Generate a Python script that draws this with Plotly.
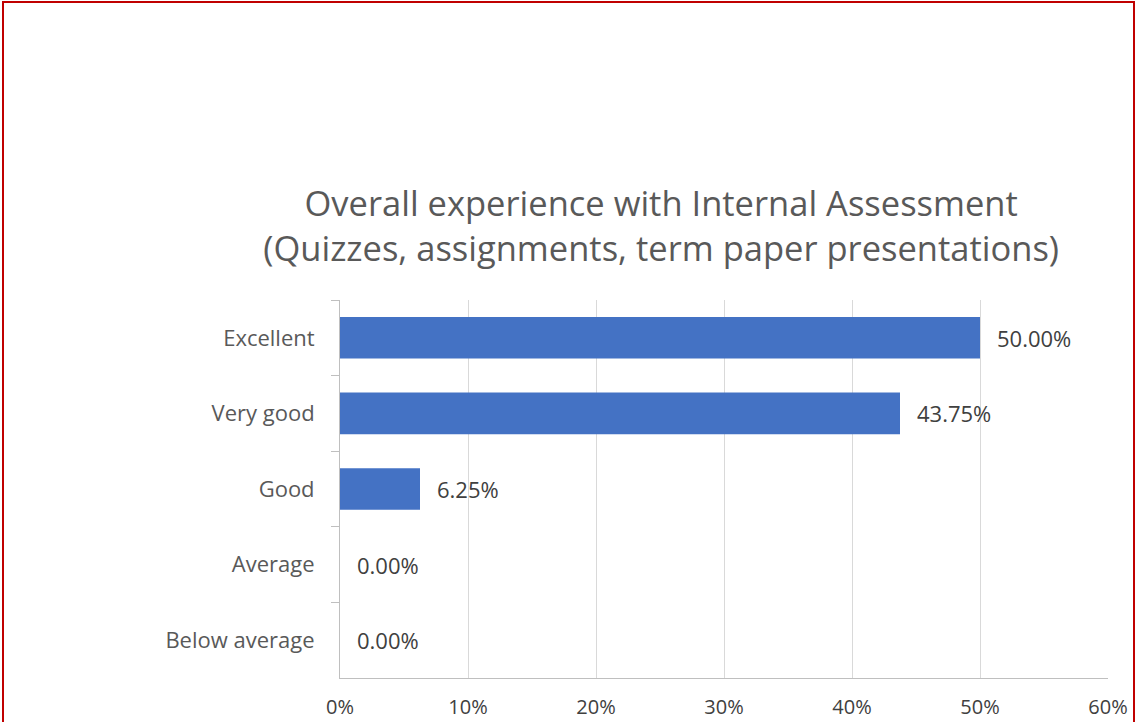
import plotly.graph_objects as go

categories = ["Excellent", "Very good", "Good", "Average", "Below average"]
shares = [0.50, 0.4375, 0.0625, 0.0, 0.0]
x_ticks = [0, 0.1, 0.2, 0.3, 0.4, 0.5, 0.6]
x_tick_labels = ["0%", "10%", "20%", "30%", "40%", "50%", "60%"]
title_lines = ["Overall experience with Internal Assessment",
               "(Quizzes, assignments, term paper presentations)"]

FONT = "Open Sans, Carlito, Calibri, sans-serif"

fig = go.Figure(go.Bar(
    x=shares, y=categories, orientation="h",
    marker=dict(color="#4472C4", line=dict(width=0)),
    hoverinfo="skip",
))

# value labels to the right of each bar
for cat, v in zip(categories, shares):
    fig.add_annotation(x=v, y=cat, text=f"{v * 100:.2f}%", showarrow=False,
                       xanchor="left", xshift=15,
                       font=dict(family=FONT, size=22, color="#404040"))

fig.update_layout(
    width=1136, height=722,
    margin=dict(l=340, r=28, t=300, b=44),
    paper_bgcolor="white", plot_bgcolor="white",
    showlegend=False, bargap=0.45,
    font=dict(family=FONT),
    title=dict(text="<br>".join(title_lines), x=0.582, xanchor="center",
               y=0.7005, yanchor="middle",
               font=dict(family=FONT, size=34.5, color="#595959")),
    xaxis=dict(range=[0, 0.6], tickvals=x_ticks, ticktext=x_tick_labels,
               showgrid=True, gridcolor="#d9d9d9", gridwidth=1,
               zeroline=False, showline=True, linecolor="#bfbfbf",
               ticks="", ticklabelstandoff=11, automargin=False,
               tickfont=dict(family=FONT, size=20, color="#404040")),
    yaxis=dict(autorange="reversed", showline=True, linecolor="#bfbfbf",
               ticks="outside", tickson="boundaries", ticklen=8,
               tickcolor="#bfbfbf", showgrid=False, ticklabelstandoff=20,
               automargin=False,
               tickfont=dict(family=FONT, size=22, color="#595959")),
)

# outer red frame of the picture
fig.add_shape(type="rect", xref="paper", yref="paper",
              x0=(3 - 340) / 768, x1=(1134 - 340) / 768,
              y0=-0.3, y1=(678 - 2) / 378,
              line=dict(color="#c00000", width=2), layer="above")

fig.write_html("out.html", config={"displayModeBar": False},
               post_script="document.body.style.margin='0';")
